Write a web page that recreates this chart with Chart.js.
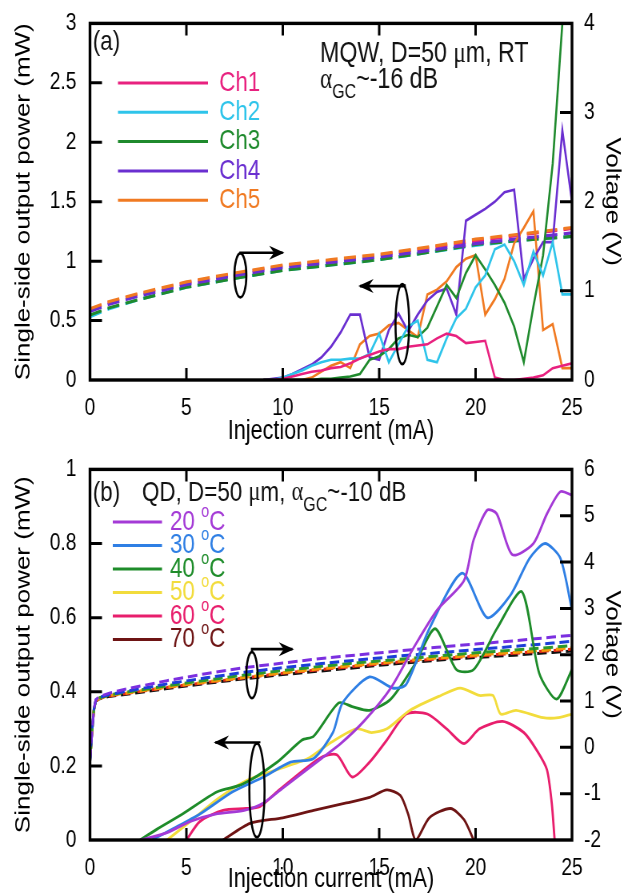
<!DOCTYPE html>
<html>
<head>
<meta charset="utf-8">
<script src="https://cdn.jsdelivr.net/npm/chart.js@4.4.0/dist/chart.umd.min.js"></script>
<style>
  html, body { margin: 0; padding: 0; background: #fff; overflow: hidden; }
  body { width: 636px; height: 893px; position: relative; }
  /* the figure is drawn 25% wider and squeezed back, like the source image */
  .panel { position: absolute; left: 0; transform: scaleX(0.8); transform-origin: 0 0; }
  #panelA { top: 0; }
  #panelB { top: 446px; }
</style>
</head>
<body>
<canvas id="panelA" class="panel" width="795" height="460"></canvas>
<canvas id="panelB" class="panel" width="795" height="460"></canvas>
<script>
/* ---------- Panel (a): MQW, D=50 um, five channels ---------- */
const currentA = [9, 9.5, 10, 10.5, 11, 11.5, 12, 12.5, 13, 13.5, 14, 14.5, 15, 15.5, 16, 16.5,
                  17, 17.5, 18, 18.5, 19, 19.5, 20, 20.5, 21, 21.5, 22, 22.5, 23, 23.5, 24, 24.5, 25];
const powerCh1 = [0, 0, 0.01, 0.03, 0.05, 0.07, 0.08, 0.1, 0.11, 0.14, 0.18, 0.21, 0.24, 0.26, 0.26, 0.28,
                  0.29, 0.3, 0.35, 0.39, 0.37, 0.31, 0.32, 0.33, 0.02, 0, 0, 0.01, 0.02, 0.04, 0.1, 0.12, 0.14];
const powerCh2 = [0, 0, 0.02, 0.05, 0.08, 0.12, 0.15, 0.17, 0.17, 0.18, 0.18, 0.22, 0.39, 0.15, 0.3, 0.45,
                  0.5, 0.17, 0.15, 0.35, 0.52, 0.6, 0.78, 0.88, 1.1, 1.14, 1.0, 0.8, 1.08, 0.88, 1.16, 0.72, 0.72];
const powerCh3 = [0, 0, 0, 0, 0, 0, 0.01, 0.01, 0.02, 0.03, 0.05, 0.17, 0.2, 0.26, 0.35, 0.38,
                  0.36, 0.44, 0.62, 0.8, 0.69, 0.9, 1.05, 0.93, 0.8, 0.65, 0.45, 0.15, 0.62, 1.05, 1.82, 3.0, 3.6];
const powerCh4 = [0, 0.01, 0.02, 0.05, 0.09, 0.13, 0.19, 0.28, 0.4, 0.55, 0.55, 0.19, 0.17, 0.42, 0.56, 0.41,
                  0.55, 0.67, 0.74, 0.77, 0.55, 1.34, 1.39, 1.44, 1.5, 1.58, 1.6, 0.85, 1.02, 1.16, 1.16, 2.1, 1.5];
const powerCh5 = [0, 0, 0, 0, 0, 0.02, 0.07, 0.12, 0.15, 0.1, 0.3, 0.37, 0.39, 0.46, 0.48, 0.42,
                  0.36, 0.72, 0.76, 0.83, 0.95, 1.02, 1.05, 0.55, 0.68, 0.85, 1.15, 1.28, 1.42, 0.42, 0.47, 0.1, 0.1];

const voltCurrentA = [0, 1, 2.5, 5, 7.5, 10, 12.5, 15, 17.5, 20, 22.5, 25];
const voltCh1 = [0.79, 0.87, 0.96, 1.09, 1.19, 1.28, 1.34, 1.4, 1.48, 1.56, 1.63, 1.7];
const voltCh2 = [0.71, 0.8, 0.9, 1.04, 1.14, 1.23, 1.29, 1.35, 1.43, 1.51, 1.57, 1.61];
const voltCh3 = [0.73, 0.81, 0.9, 1.04, 1.14, 1.23, 1.29, 1.35, 1.43, 1.52, 1.57, 1.61];
const voltCh4 = [0.77, 0.85, 0.94, 1.07, 1.17, 1.26, 1.32, 1.38, 1.45, 1.53, 1.59, 1.65];
const voltCh5 = [0.8, 0.88, 0.97, 1.1, 1.2, 1.29, 1.35, 1.41, 1.49, 1.58, 1.64, 1.71];

const channelNames = ['Ch1', 'Ch2', 'Ch3', 'Ch4', 'Ch5'];
const channelColors = ['#e8217f', '#2ec4ea', '#1f8a2d', '#6a2fd0', '#f07a22'];

/* ---------- Panel (b): QD, D=50 um, temperatures ---------- */
const curr20C = [2.6, 4, 5.2, 6.5, 8, 9, 10, 12, 13, 14.2, 15.6, 16.8, 18, 19.4, 19.9, 20.6, 21.1, 21.9, 23, 23.7, 24.4, 25];
const pow20C  = [0, 0.02, 0.05, 0.07, 0.08, 0.1, 0.14, 0.22, 0.26, 0.32, 0.41, 0.52, 0.62, 0.7, 0.81, 0.89, 0.88, 0.77, 0.8, 0.88, 0.94, 0.93];
const curr30C = [3.2, 4.3, 5.7, 7.4, 9, 10.4, 11.6, 12.6, 13.1, 14.5, 15.7, 16.4, 17.6, 19.3, 20.6, 21.8, 22.8, 23.6, 24.4, 25];
const pow30C  = [0, 0.03, 0.07, 0.13, 0.17, 0.21, 0.22, 0.29, 0.37, 0.44, 0.41, 0.42, 0.57, 0.72, 0.6, 0.66, 0.76, 0.8, 0.76, 0.62];
const curr40C = [2.6, 3.5, 4.8, 6.6, 7.9, 9.7, 11, 11.6, 12.9, 13.6, 14.5, 15.6, 16.8, 17.9, 19, 19.9, 21.1, 22.4, 23.3, 24.2, 25];
const pow40C  = [0, 0.03, 0.07, 0.13, 0.15, 0.21, 0.27, 0.28, 0.37, 0.36, 0.35, 0.38, 0.47, 0.57, 0.46, 0.46, 0.57, 0.67, 0.45, 0.38, 0.46];
const curr50C = [4, 5.2, 6.6, 8.1, 9.7, 11.3, 12.4, 13.8, 14.6, 15.4, 16.6, 18.2, 19.2, 20.2, 20.9, 21.3, 22.1, 23.5, 24.3, 25];
const pow50C  = [0, 0.05, 0.11, 0.16, 0.19, 0.22, 0.26, 0.3, 0.29, 0.3, 0.35, 0.39, 0.41, 0.39, 0.39, 0.34, 0.35, 0.33, 0.33, 0.34];
const curr60C = [5, 5.7, 6.9, 8.1, 8.8, 9.7, 11.9, 12.8, 13.6, 14.5, 15.4, 16.4, 17.5, 18.5, 19.4, 20.2, 21.4, 22.5, 23.2, 23.7, 23.95, 24.1];
const pow60C  = [0, 0.05, 0.08, 0.085, 0.09, 0.13, 0.22, 0.23, 0.17, 0.21, 0.27, 0.34, 0.34, 0.3, 0.26, 0.3, 0.32, 0.29, 0.24, 0.19, 0.1, 0];
const curr70C = [6.9, 8.3, 10, 11.6, 13.3, 14.5, 15.4, 16.1, 16.5, 16.9, 17.6, 18.7, 19.4, 19.9];
const pow70C  = [0, 0.045, 0.06, 0.08, 0.1, 0.115, 0.135, 0.12, 0.07, 0, 0.06, 0.085, 0.055, 0];

const voltCurrentB = [0, 0.1, 0.2, 0.3, 0.5, 1, 2, 4, 6, 8, 10, 12, 14, 16, 18, 20, 22, 24, 25];
const volt20C = [-0.3, 0.3, 0.82, 1.03, 1.1, 1.17, 1.27, 1.44, 1.59, 1.72, 1.82, 1.92, 2.0, 2.08, 2.16, 2.23, 2.3, 2.38, 2.42];
const volt30C = [-0.3, 0.3, 0.81, 1.02, 1.08, 1.14, 1.22, 1.37, 1.5, 1.62, 1.72, 1.81, 1.89, 1.97, 2.04, 2.11, 2.18, 2.25, 2.29];
const volt40C = [-0.3, 0.3, 0.8, 1.01, 1.07, 1.13, 1.2, 1.33, 1.45, 1.56, 1.66, 1.75, 1.83, 1.9, 1.97, 2.04, 2.1, 2.16, 2.2];
const volt50C = [-0.3, 0.3, 0.8, 1.0, 1.06, 1.12, 1.18, 1.3, 1.41, 1.51, 1.61, 1.7, 1.78, 1.86, 1.93, 1.99, 2.05, 2.11, 2.15];
const volt60C = [-0.3, 0.3, 0.8, 1.0, 1.06, 1.11, 1.17, 1.29, 1.4, 1.5, 1.6, 1.68, 1.76, 1.84, 1.91, 1.97, 2.03, 2.09, 2.12];
const volt70C = [-0.3, 0.3, 0.8, 1.0, 1.05, 1.1, 1.15, 1.27, 1.38, 1.48, 1.57, 1.65, 1.73, 1.81, 1.88, 1.94, 1.99, 2.05, 2.08];

const tempLabels = ['20', '30', '40', '50', '60', '70'];
const tempColors = ['#a43ad6', '#2f7fe4', '#1e8c2a', '#f2dc3c', '#e81e6c', '#6e1414'];
const tempDashColors = ['#7b2fe0', '#1c3ed8', '#2c9a2c', '#f29a0a', '#e82a1a', '#111111'];

const SANS = '"Liberation Sans", Arial, Helvetica, sans-serif';
const SERIF = '"Liberation Serif", "Times New Roman", serif';

function pts(xs, ys) {
    return xs.map((x, i) => ({ x: x, y: ys[i] }));
}

// rich text: parts drawn one after another (sub/superscripts through dy)
function drawRich(ctx, x, y, parts, size, color) {
    ctx.fillStyle = color;
    ctx.textBaseline = 'middle';
    ctx.textAlign = 'left';
    parts.forEach(p => {
        ctx.font = `${p.size || size}px ${p.serif ? SERIF : SANS}`;
        ctx.fillText(p.t, x, y + (p.dy || 0));
        x += ctx.measureText(p.t).width;
    });
}

// ellipse round a bundle of curves + arrow pointing at the axis it belongs to
function drawLoop(ctx, sx, sy, L) {
    const cx = sx.getPixelForValue(L.cx), cy = sy.getPixelForValue(L.cy);
    const ax = sx.getPixelForValue(L.ax), ay = sy.getPixelForValue(L.ay);
    ctx.beginPath();
    ctx.ellipse(cx, cy, L.rx, L.ry, 0, 0, Math.PI * 2);
    ctx.stroke();
    const x0 = cx + (L.dx || 0);
    ctx.beginPath();
    ctx.moveTo(x0, cy - L.ry);
    ctx.lineTo(x0, ay);
    ctx.lineTo(ax, ay);
    ctx.stroke();
    const dir = Math.sign(ax - x0);
    ctx.beginPath();
    ctx.moveTo(ax + dir * 2, ay);
    ctx.lineTo(ax - dir * 17, ay - 7);
    ctx.lineTo(ax - dir * 11, ay);
    ctx.lineTo(ax - dir * 17, ay + 7);
    ctx.closePath();
    ctx.fill();
}

function decoPlugin(conf) {
    return {
        id: 'deco',
        afterDatasetsDraw(chart) {
            const { ctx, chartArea: a, scales } = chart;
            ctx.save();
            ctx.strokeStyle = '#000';
            ctx.lineWidth = 3;
            ctx.beginPath();
            scales.x.ticks.forEach(t => {
                if (t.value <= scales.x.min || t.value >= scales.x.max) return;
                const px = scales.x.getPixelForValue(t.value);
                ctx.moveTo(px, a.bottom); ctx.lineTo(px, a.bottom - 12);
                ctx.moveTo(px, a.top); ctx.lineTo(px, a.top + 12);
            });
            scales.y.ticks.forEach(t => {
                if (t.value <= scales.y.min || t.value >= scales.y.max) return;
                const py = scales.y.getPixelForValue(t.value);
                ctx.moveTo(a.left, py); ctx.lineTo(a.left + 15, py);
            });
            scales.y1.ticks.forEach(t => {
                if (t.value <= scales.y1.min || t.value >= scales.y1.max) return;
                const py = scales.y1.getPixelForValue(t.value);
                ctx.moveTo(a.right, py); ctx.lineTo(a.right - 15, py);
            });
            ctx.stroke();
            ctx.lineWidth = 3.4;
            ctx.strokeRect(a.left, a.top, a.right - a.left, a.bottom - a.top);
            ctx.restore();
        },
        afterDraw(chart) {
            const { ctx, scales } = chart;
            ctx.save();
            // legend
            const lg = conf.legend;
            lg.rows.forEach(r => {
                ctx.strokeStyle = r.color;
                ctx.lineWidth = 3;
                ctx.beginPath();
                ctx.moveTo(lg.x0, r.y); ctx.lineTo(lg.x1, r.y);
                ctx.stroke();
                drawRich(ctx, lg.xText, r.y, r.parts, lg.size, r.color);
            });
            // notes
            conf.notes.forEach(n => drawRich(ctx, n.x, n.y, n.parts, n.size, '#111'));
            // ellipses and arrows
            ctx.strokeStyle = '#000';
            ctx.fillStyle = '#000';
            ctx.lineWidth = 2.6;
            conf.loops.forEach(L => drawLoop(ctx, scales.x, scales.y, L));
            ctx.restore();
        }
    };
}

function baseOptions(o) {
    const tickFont = { family: SANS, size: 24 };
    const titleFont = { family: SANS, size: 26 };
    return {
        responsive: false,
        animation: false,
        devicePixelRatio: 1,
        layout: { padding: { top: o.top, left: 0, right: 0, bottom: 0 } },
        plugins: { legend: { display: false }, tooltip: { enabled: false } },
        elements: { point: { radius: 0 } },
        scales: {
            x: {
                type: 'linear', min: 0, max: 25,
                grid: { display: false }, border: { display: false },
                ticks: { stepSize: 5, color: '#000', font: tickFont, padding: 6, maxRotation: 0 },
                title: { display: true, text: 'Injection current (mA)', color: '#000',
                         font: { family: SANS, size: 27 }, padding: { top: 0, bottom: o.xTitlePad } },
                afterFit: s => { s.height = o.xHeight; }
            },
            y: {
                position: 'left', min: o.yMin, max: o.yMax,
                grid: { display: false }, border: { display: false },
                ticks: { stepSize: o.yStep, color: '#000', font: tickFont, padding: 9,
                         callback: v => String(+v.toFixed(1)) },
                title: { display: true, text: 'Single-side output power (mW)', color: '#000',
                         font: titleFont, padding: { top: 14, bottom: 0 } },
                afterFit: s => { s.width = 112.5; }
            },
            y1: {
                position: 'right', min: o.vMin, max: o.vMax,
                grid: { display: false }, border: { display: false },
                ticks: { stepSize: 1, color: '#000', font: tickFont, padding: 7 },
                title: { display: true, text: 'Voltage (V)', color: '#000',
                         font: titleFont, padding: { top: 14, bottom: 0 } },
                afterFit: s => { s.width = 80; }
            }
        }
    };
}

/* ---- panel (a) ---- */
const powersA = [powerCh1, powerCh2, powerCh3, powerCh4, powerCh5];
const voltsA = [voltCh1, voltCh2, voltCh3, voltCh4, voltCh5];
const dashOrderA = [4, 3, 0, 2, 1]; // orange/purple dashes on top, cyan at the bottom

const dsA = [];
powersA.forEach((p, i) => dsA.push({
    label: channelNames[i], data: pts(currentA, p), yAxisID: 'y',
    borderColor: channelColors[i], borderWidth: 2.6, tension: 0
}));
dashOrderA.forEach(i => dsA.push({
    label: channelNames[i] + ' V', data: pts(voltCurrentA, voltsA[i]), yAxisID: 'y1',
    borderColor: channelColors[i], borderWidth: 3.2, borderDash: [15, 8]
}));

new Chart(document.getElementById('panelA'), {
    type: 'line',
    data: { datasets: dsA },
    options: baseOptions({ top: 17, xHeight: 80, xTitlePad: 12, yMin: 0, yMax: 3, yStep: 0.5, vMin: 0, vMax: 4 }),
    plugins: [decoPlugin({
        legend: {
            x0: 147.5, x1: 260, xText: 274, size: 28,
            rows: channelNames.map((n, i) => ({ y: 83 + i * 29.3, color: channelColors[i], parts: [{ t: n }] }))
        },
        notes: [
            { x: 116, y: 42, size: 28, parts: [{ t: '(a)' }] },
            { x: 400, y: 54, size: 29, parts: [{ t: 'MQW, D=50 ' }, { t: 'μ', serif: true }, { t: 'm, RT' }] },
            { x: 400, y: 80, size: 29, parts: [{ t: 'α', serif: true }, { t: 'GC', size: 20, dy: 12 }, { t: '~-16 dB' }] }
        ],
        loops: [
            { cx: 7.8, cy: 0.88, rx: 7.5, ry: 22, ax: 10, ay: 1.07 },
            { cx: 16.2, cy: 0.47, rx: 8.5, ry: 40, ax: 14.0, ay: 0.79, dx: 3 }
        ]
    })]
});

/* ---- panel (b) ---- */
const currB = [curr20C, curr30C, curr40C, curr50C, curr60C, curr70C];
const powB = [pow20C, pow30C, pow40C, pow50C, pow60C, pow70C];
const voltB = [volt20C, volt30C, volt40C, volt50C, volt60C, volt70C];

const dsB = [];
powB.forEach((p, i) => dsB.push({
    label: tempLabels[i] + ' C', data: pts(currB[i], p), yAxisID: 'y',
    borderColor: tempColors[i], borderWidth: 2.8, tension: 0.25
}));
voltB.forEach((v, i) => dsB.push({
    label: tempLabels[i] + ' C V', data: pts(voltCurrentB, v), yAxisID: 'y1',
    borderColor: tempDashColors[i], borderWidth: 3, borderDash: [12, 6], borderDashOffset: i * 3
}));

new Chart(document.getElementById('panelB'), {
    type: 'line',
    data: { datasets: dsB },
    options: baseOptions({ top: 21, xHeight: 66, xTitlePad: 10, yMin: 0, yMax: 1, yStep: 0.2, vMin: -2, vMax: 6 }),
    plugins: [decoPlugin({
        legend: {
            x0: 141, x1: 202.5, xText: 212.5, size: 28,
            rows: tempLabels.map((t, i) => ({
                y: 76 + i * 23.5, color: tempColors[i],
                parts: [{ t: t + ' ' }, { t: 'o', size: 18, dy: -10 }, { t: 'C' }]
            }))
        },
        notes: [
            { x: 116, y: 47, size: 28, parts: [{ t: '(b)' }] },
            { x: 177.5, y: 47, size: 28, parts: [{ t: 'QD, D=50 ' }, { t: 'μ', serif: true }, { t: 'm, ' },
                { t: 'α', serif: true }, { t: 'GC', size: 20, dy: 12 }, { t: '~-10 dB' }] }
        ],
        loops: [
            { cx: 8.4, cy: 0.445, rx: 7, ry: 23, ax: 10.5, ay: 0.515 },
            { cx: 8.66, cy: 0.134, rx: 9.5, ry: 47, ax: 6.5, ay: 0.263, dx: 3 }
        ]
    })]
});
</script>
</body>
</html>
